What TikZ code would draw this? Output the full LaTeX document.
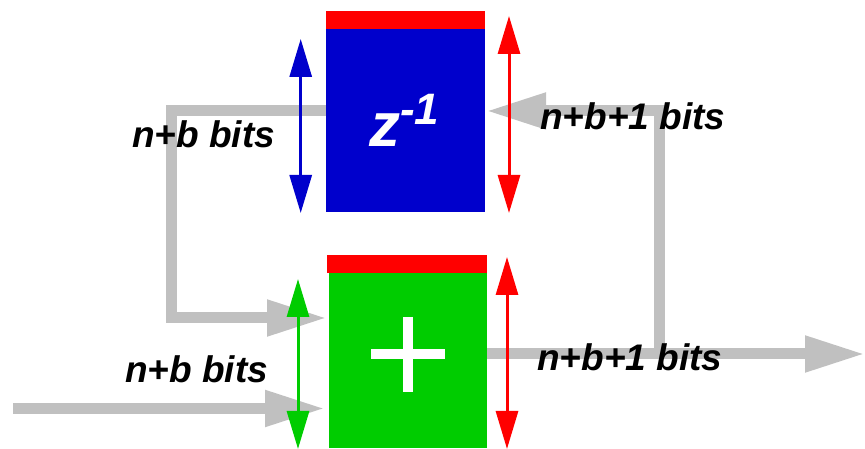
\documentclass[tikz,border=0pt]{standalone}
\usepackage{fontspec}
\setmainfont{Liberation Sans}
\usetikzlibrary{arrows.meta}
\definecolor{boxblue}{HTML}{0000CC}
\definecolor{boxgreen}{HTML}{00CC00}
\definecolor{barred}{HTML}{FF0000}
\definecolor{wiregray}{HTML}{C0C0C0}
\begin{document}
\begin{tikzpicture}[x=1pt,y=1pt,
  blockbox/.style={rectangle, inner sep=0pt, outer sep=0pt, draw=none},
  wire/.style={draw=wiregray, line width=11pt, -{Triangle[length=60pt,width=34pt]}},
  sizearrow/.style={line width=3pt, {Triangle[length=38pt,width=22pt]}-{Triangle[length=38pt,width=22pt]}},
  bitlabel/.style={font=\fontsize{37}{40}\selectfont\bfseries\itshape, inner sep=0pt, anchor=base west}
]
\useasboundingbox (0,0) rectangle (865,449);
% blocks
\node[blockbox, fill=boxblue, minimum width=159pt, minimum height=183pt] (delay) at (405.5,328.5) {};
\node[blockbox, fill=barred, minimum width=159pt, minimum height=18pt] (delaybar) at (405.5,429) {};
\node[blockbox, fill=boxgreen, minimum width=158pt, minimum height=175pt] (adder) at (408,88.5) {};
\node[blockbox, fill=barred, minimum width=160pt, minimum height=18pt] (adderbar) at (407,185) {};
% wires
\coordinate (fbleft) at (171,131);
\coordinate (inputstart) at (13,40.5);
\coordinate (outend) at (865,95);
\coordinate (fbright) at (659.5,338);
\draw[wire] ([yshift=9.5pt]delay.west) -| (fbleft) -- ([xshift=-2pt]fbleft -| adder.west);
\draw[wire] (inputstart) -- ([xshift=-4pt]inputstart -| adder.west);
\draw[wire] (adder.east |- outend) -- (outend);
\draw[wire] (fbright |- outend) -- (fbright) -- ([xshift=1pt]fbright -| delay.east);
% size arrows
\draw[sizearrow, color=boxblue] (300.7,236) -- (300.7,410);
\draw[sizearrow, color=barred] (509,236) -- (509,433);
\draw[sizearrow, color=boxgreen] (298,0) -- (298,170);
\draw[sizearrow, color=barred] (507,0) -- (507,192);
% box contents
\node[inner sep=0pt, anchor=base west, text=white, font=\fontsize{62}{62}\selectfont\bfseries\itshape] (zlabel) at (369,302) {z\raisebox{22pt}{\fontsize{44}{44}\selectfont -1}};
\draw[white, line width=10.5pt] (371,95) -- (445,95);
\draw[white, line width=10.5pt] (408,132) -- (408,57);
% labels
\node[bitlabel] (lbltl) at (132,301.5) {n+b bits};
\node[bitlabel] (lbltr) at (540,319) {n+b+1 bits};
\node[bitlabel] (lblbr) at (537,78) {n+b+1 bits};
\node[bitlabel] (lblbl) at (125,66.3) {n+b bits};
\end{tikzpicture}
\end{document}
